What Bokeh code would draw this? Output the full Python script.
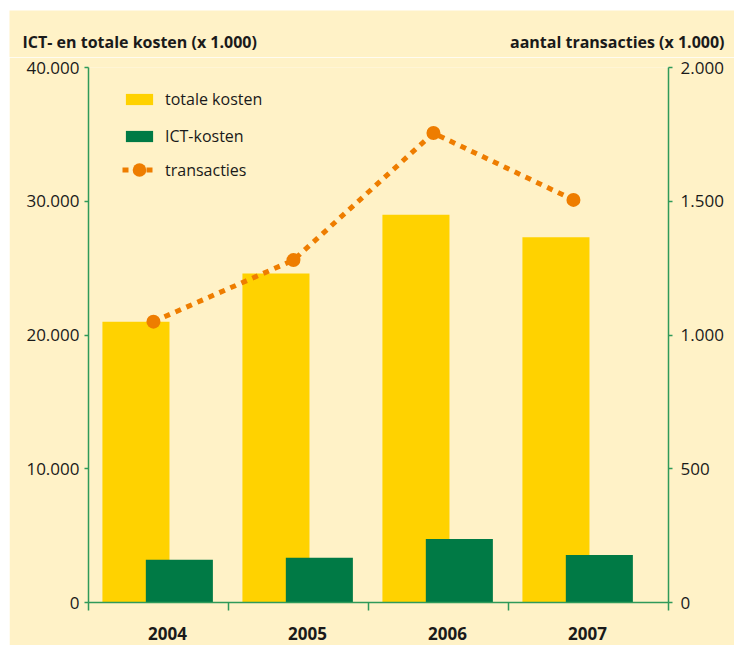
from bokeh.plotting import figure
from bokeh.layouts import column
from bokeh.models import (Range1d, LinearAxis, FixedTicker, Legend, LegendItem,
                          Label, ColumnDataSource)
from bokeh.embed import file_html
from bokeh.resources import INLINE

# ---- data ----
years = ["2004", "2005", "2006", "2007"]
totale_kosten = [21000, 24600, 29000, 27300]
ict_kosten = [3200, 3350, 4750, 3550]
transacties = [1050, 1280, 1755, 1505]

left_ticks = [0, 10000, 20000, 30000, 40000]
left_tick_labels = ["0", "10.000", "20.000", "30.000", "40.000"]
right_ticks = [0, 500, 1000, 1500, 2000]
right_tick_labels = ["0", "500", "1.000", "1.500", "2.000"]

left_title = "ICT- en totale kosten (x 1.000)"
right_title = "aantal transacties (x 1.000)"

# ---- style ----
BG = "#FFF2C7"
YELLOW = "#FFD200"
GREEN = "#007A45"
ORANGE = "#EE7D00"
AXIS = "#2F9A5A"
TEXT = "#1A1A1A"
FONT = "Open Sans"

W = 725
TITLE_H = 47

idx = list(range(len(years)))
x_start, x_end = -0.564, 3.579
bar_w = 0.479

src = ColumnDataSource(dict(
    x_tot=[i - 0.225 for i in idx],
    x_ict=[i + 0.085 for i in idx],
    x_tr=[i - 0.1 for i in idx],
    tot=totale_kosten,
    ict=ict_kosten,
    tr=transacties,
))

# ---- title strip ----
t = figure(width=W, height=TITLE_H, output_backend="svg", toolbar_location=None,
           x_range=Range1d(0, W), y_range=Range1d(0, TITLE_H),
           x_axis_location=None, y_axis_location=None,
           min_border=0, background_fill_color=BG, border_fill_color=BG,
           outline_line_color=None)
t.frame_align = False
t.xgrid.visible = False
t.ygrid.visible = False
t.add_layout(Label(x=13, y=16, text=left_title, text_font=FONT,
                   text_font_style="bold", text_font_size="16px",
                   text_color=TEXT, text_align="left", text_baseline="middle"))
t.add_layout(Label(x=W - 10, y=16, text=right_title, text_font=FONT,
                   text_font_style="bold", text_font_size="16px",
                   text_color=TEXT, text_align="right", text_baseline="middle"))

# ---- main chart ----
p = figure(width=W, height=635 - TITLE_H, output_backend="svg", toolbar_location=None,
           x_range=Range1d(x_start, x_end), y_range=Range1d(0, 40000),
           x_axis_location=None, y_axis_location=None,
           min_border_left=79, min_border_right=66, min_border_top=10,
           min_border_bottom=43,
           background_fill_color=BG, border_fill_color=BG,
           outline_line_color=None)
p.frame_align = False
p.xgrid.visible = False
p.ygrid.visible = False
p.extra_y_ranges = {"right": Range1d(0, 2000)}

r_tot = p.vbar(x="x_tot", top="tot", width=bar_w, source=src,
               fill_color=YELLOW, line_color=None)
r_ict = p.vbar(x="x_ict", top="ict", width=bar_w, source=src,
               fill_color=GREEN, line_color=None)
r_line = p.line(x="x_tr", y="tr", source=src, y_range_name="right",
                line_color=ORANGE, line_width=5, line_dash="6 6")
r_pts = p.scatter(x="x_tr", y="tr", source=src, y_range_name="right",
                  size=14, fill_color=ORANGE, line_color=None)

def style_axis(ax):
    ax.axis_line_color = AXIS
    ax.axis_line_width = 1.5
    ax.major_tick_line_color = AXIS
    ax.major_tick_line_width = 1.5
    ax.minor_tick_line_color = None
    ax.major_label_text_font = FONT
    ax.major_label_text_color = TEXT
    ax.major_label_text_font_size = "17px"

ly = LinearAxis(ticker=FixedTicker(ticks=left_ticks),
                major_label_overrides=dict(zip(left_ticks, left_tick_labels)))
style_axis(ly)
ly.major_tick_out = 4
ly.major_tick_in = 0
ly.major_label_standoff = 5
p.add_layout(ly, "left")

ry = LinearAxis(y_range_name="right", ticker=FixedTicker(ticks=right_ticks),
                major_label_overrides=dict(zip(right_ticks, right_tick_labels)))
style_axis(ry)
ry.major_tick_out = 4
ry.major_tick_in = 0
ry.major_label_standoff = 8
p.add_layout(ry, "right")

bounds = [i + x_start for i in idx] + [x_end]
bx = LinearAxis(ticker=FixedTicker(ticks=idx, minor_ticks=bounds),
                major_label_overrides={i: y for i, y in zip(idx, years)})
style_axis(bx)
bx.major_tick_line_color = None
bx.major_tick_out = 0
bx.major_tick_in = 0
bx.minor_tick_line_color = AXIS
bx.minor_tick_line_width = 1.5
bx.minor_tick_out = 8
bx.minor_tick_in = 0
bx.major_label_standoff = 16
bx.major_label_text_font_style = "bold"
bx.major_label_text_font_size = "17px"
p.add_layout(bx, "below")

def style_legend(lg):
    lg.padding = 0
    lg.margin = 0
    lg.border_line_color = None
    lg.background_fill_alpha = 0
    lg.glyph_width = 34
    lg.label_standoff = 9
    lg.label_text_font = FONT
    lg.label_text_font_size = "16px"
    lg.label_text_color = TEXT

legend = Legend(items=[
    LegendItem(label="totale kosten", renderers=[r_tot]),
    LegendItem(label="ICT-kosten", renderers=[r_ict]),
], location=(34, 455))
style_legend(legend)
legend.glyph_height = 14
legend.label_height = 20
legend.spacing = 15
p.add_layout(legend, "center")

legend2 = Legend(items=[
    LegendItem(label="transacties", renderers=[r_line, r_pts]),
], location=(34, 415))
style_legend(legend2)
legend2.glyph_height = 35
legend2.label_height = 35
p.add_layout(legend2, "center")

layout = column(t, p, spacing=0)
layout.margin = (10, 0, 0, 9)

open("out.html", "w").write(file_html(layout, INLINE))
